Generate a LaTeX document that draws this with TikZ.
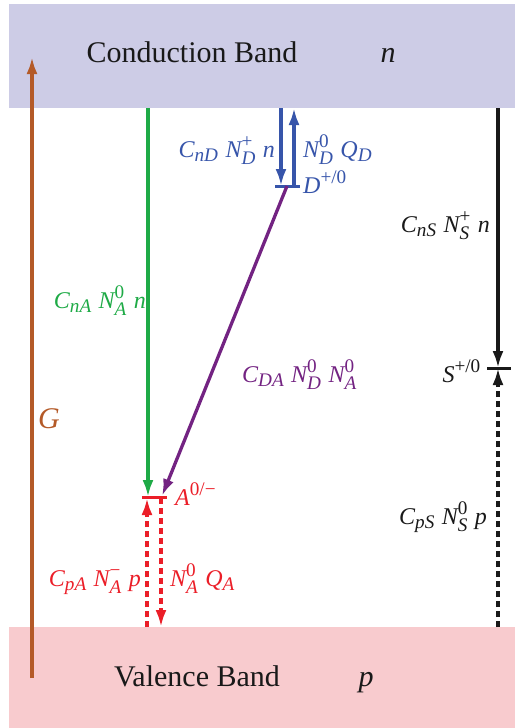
\documentclass[tikz,border=0pt]{standalone}
\usepackage{amsmath}
\usepackage{fontspec}
\setmainfont{Liberation Serif}
\usetikzlibrary{arrows.meta}
\renewcommand{\defaultscriptratio}{.8}
\renewcommand{\defaultscriptscriptratio}{.65}
\definecolor{cbfill}{RGB}{205,204,230}
\definecolor{vbfill}{RGB}{248,203,206}
\definecolor{cgreen}{RGB}{30,170,70}
\definecolor{cblue}{RGB}{55,85,170}
\definecolor{cpurple}{RGB}{115,35,130}
\definecolor{cred}{RGB}{235,30,40}
\definecolor{corange}{RGB}{180,90,40}
\definecolor{cblack}{RGB}{25,25,25}
\newcommand{\iv}[1]{\text{\itshape #1}}
\newcommand{\up}[1]{\text{#1}}
\begin{document}
\begin{tikzpicture}[x=1pt,y=-1pt,
  band/.style={draw=none,inner sep=0pt,anchor=north west},
  bandtext/.style={font=\fontsize{30}{30}\selectfont,text=cblack,inner sep=0pt},
  lbl/.style={font=\fontsize{24}{24}\selectfont,inner sep=0pt},
  arr/.style={line width=3.3pt,-{Latex[length=17pt,width=11pt]}},
  dsh/.style={arr,dash pattern=on 6pt off 4pt},
  lvl/.style={line width=3pt}
]
\useasboundingbox (0,0) rectangle (515,728);
% bands
\node[band,fill=cbfill,minimum width=506pt,minimum height=104pt] (cb) at (9,4) {};
\node[band,fill=vbfill,minimum width=506pt,minimum height=101pt] (vb) at (9,627) {};
\node[bandtext,anchor=base] (cbt) at (192,62) {Conduction Band};
\node[bandtext,anchor=base] (cbn) at (388,62) {\itshape n};
\node[bandtext,anchor=base] (vbt) at (197,686) {Valence Band};
\node[bandtext,anchor=base] (vbp) at (366,686) {\itshape p};
% coordinates
\coordinate (gB) at (32,678);
\coordinate (gT) at (32,57);
\coordinate (aG) at (148,108);
\coordinate (aL) at (142,497);
\coordinate (aR) at (167,497);
\coordinate (aGt) at (148,497);
\coordinate (aPt) at (162,496);
\coordinate (dL) at (275,186);
\coordinate (dR) at (300,186);
\coordinate (dPs) at (287,186);
\coordinate (b1t) at (281,108);
\coordinate (b1b) at (281,186);
\coordinate (b2b) at (294,186);
\coordinate (b2t) at (294,108);
\coordinate (sT) at (498,108);
\coordinate (sL) at (487,368);
\coordinate (sR) at (511,368);
\coordinate (sM) at (498,368);
\coordinate (sB) at (498,627);
\coordinate (rUb) at (147,627);
\coordinate (rUt) at (147,498);
\coordinate (rDt) at (161,498);
\coordinate (rDb) at (161,627);
% G
\draw[arr,corange] (gB) -- (gT);
\node[font=\fontsize{30}{30}\selectfont,inner sep=0pt,text=corange,anchor=base west] (G) at (38,428) {\itshape G};
% green
\draw[arr,cgreen] (aG) -- (aGt);
\node[lbl,text=cgreen,anchor=base east] (lA) at (146,308) {$\iv{C}_{\iv{nA}}\;\iv{N}_{\iv{A}}^{\up{0}}\;\iv{n}$};
% blue
\draw[arr,cblue] (b1t) -- (b1b);
\draw[arr,cblue] (b2b) -- (b2t);
\draw[lvl,cblue] (dL) -- (dR);
\node[lbl,text=cblue,anchor=base east] (lD1) at (275,157) {$\iv{C}_{\iv{nD}}\;\iv{N}_{\iv{D}}^{\up{+}}\;\iv{n}$};
\node[lbl,text=cblue,anchor=base west] (lD2) at (303,157) {$\iv{N}_{\iv{D}}^{\up{0}}\;\iv{Q}_{\iv{D}}$};
\node[lbl,text=cblue,anchor=base west] (lD3) at (303,193) {$\iv{D}^{\up{+/0}}$};
% purple
\draw[arr,cpurple] (dPs) -- (aPt);
\node[lbl,text=cpurple,anchor=base west] (lDA) at (242,382) {$\iv{C}_{\iv{DA}}\;\iv{N}_{\iv{D}}^{\up{0}}\;\iv{N}_{\iv{A}}^{\up{0}}$};
% red
\draw[lvl,cred] (aL) -- (aR);
\draw[dsh,cred] (rUb) -- (rUt);
\draw[dsh,cred] (rDt) -- (rDb);
\node[lbl,text=cred,anchor=base west] (lA0) at (175,505) {$\iv{A}^{\up{0/\textminus}}$};
\node[lbl,text=cred,anchor=base east] (lpA) at (141,586) {$\iv{C}_{\iv{pA}}\;\iv{N}_{\iv{A}}^{\up{\textminus}}\;\iv{p}$};
\node[lbl,text=cred,anchor=base west] (lQA) at (170,586) {$\iv{N}_{\iv{A}}^{\up{0}}\;\iv{Q}_{\iv{A}}$};
% black
\draw[arr,cblack] (sT) -- (sM);
\draw[lvl,cblack] (sL) -- (sR);
\draw[dsh,cblack] (sB) -- (sM);
\node[lbl,text=cblack,anchor=base east] (lS1) at (490,232) {$\iv{C}_{\iv{nS}}\;\iv{N}_{\iv{S}}^{\up{+}}\;\iv{n}$};
\node[lbl,text=cblack,anchor=base east] (lS2) at (481,382) {$\iv{S}^{\up{+/0}}$};
\node[lbl,text=cblack,anchor=base east] (lS3) at (487,524) {$\iv{C}_{\iv{pS}}\;\iv{N}_{\iv{S}}^{\up{0}}\;\iv{p}$};
\end{tikzpicture}
\end{document}
